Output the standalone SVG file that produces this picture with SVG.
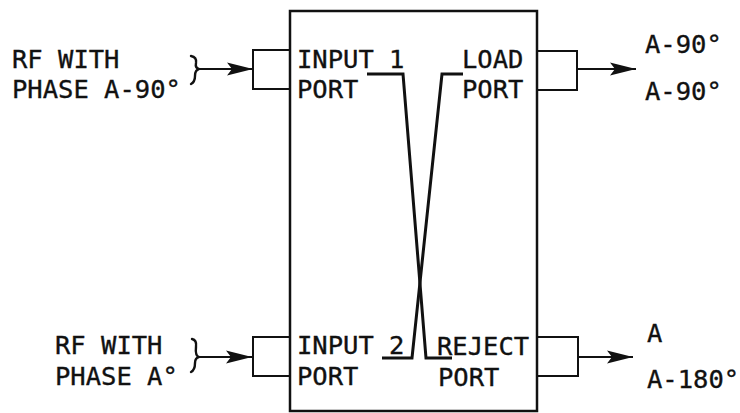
<svg xmlns="http://www.w3.org/2000/svg" width="740" height="413" viewBox="0 0 740 413">
<style>
  text { font-family: "DejaVu Sans Mono", "Liberation Mono", monospace; font-size: 25.5px; fill: #111; stroke: #111; stroke-width: 0.35; }
  .box { fill: none; stroke: #111; stroke-width: 2.5; }
  .port { fill: none; stroke: #111; stroke-width: 2; }
  .line { fill: none; stroke: #111; stroke-width: 2; }
  .cross { fill: none; stroke: #111; stroke-width: 3; stroke-linejoin: miter; }
  .brace { fill: none; stroke: #111; stroke-width: 2.4; stroke-linecap: round; }
</style>
<defs>
  <marker id="arrow" markerUnits="userSpaceOnUse" markerWidth="27" markerHeight="16" refX="26" refY="8" orient="auto">
    <path d="M0,1.5 L26,8 L0,14.5 L5,8 Z" fill="#111"/>
  </marker>
</defs>
<rect width="740" height="413" fill="#fff"/>

<g id="coupler">
  <rect class="box" x="290" y="11" width="247" height="400"/>
</g>

<g id="input1-port">
  <path class="port" d="M290,50 H253 V89 H290"/>
  <text x="297" y="68">INPUT 1</text>
  <text x="297" y="98">PORT</text>
</g>

<g id="load-port">
  <path class="port" d="M537,51 H577 V90 H537"/>
  <text x="462" y="68">LOAD</text>
  <text x="462" y="98">PORT</text>
</g>

<g id="input2-port">
  <path class="port" d="M290,337 H253 V376 H290"/>
  <text x="297" y="354">INPUT 2</text>
  <text x="297" y="385">PORT</text>
</g>

<g id="reject-port">
  <path class="port" d="M537,337 H578 V376 H537"/>
  <text x="437" y="355">REJECT</text>
  <text x="438" y="386">PORT</text>
</g>

<g id="input1-signal">
  <path class="brace" d="M191,56 Q197,57 196,63 Q195,68 199,69 Q195,70 195,76 Q195,82 191,84"/>
  <text x="12" y="68">RF WITH</text>
  <text x="12" y="98">PHASE A-90°</text>
</g>

<g id="input2-signal">
  <path class="brace" d="M192,339 Q197,340 196,347 Q195,356 199,357 Q195,358 195,363 Q195,370 191,372"/>
  <text x="55" y="354">RF WITH</text>
  <text x="55" y="385">PHASE A°</text>
</g>

<g id="load-output">
  <text x="645" y="53">A-90°</text>
  <text x="645" y="100">A-90°</text>
</g>

<g id="reject-output">
  <text x="647" y="342">A</text>
  <text x="647" y="388">A-180°</text>
</g>

<g id="connectors">
  <line class="line" x1="199" y1="69" x2="253" y2="69" marker-end="url(#arrow)"/>
  <line class="line" x1="199" y1="357" x2="252" y2="357" marker-end="url(#arrow)"/>
  <line class="line" x1="577" y1="69" x2="636" y2="69" marker-end="url(#arrow)"/>
  <line class="line" x1="578" y1="357" x2="633" y2="357" marker-end="url(#arrow)"/>
  <polyline class="cross" points="367,74 403,74 426,358 452,358"/>
  <polyline class="cross" points="463,74 442,74 412,358 382,358"/>
</g>
</svg>
